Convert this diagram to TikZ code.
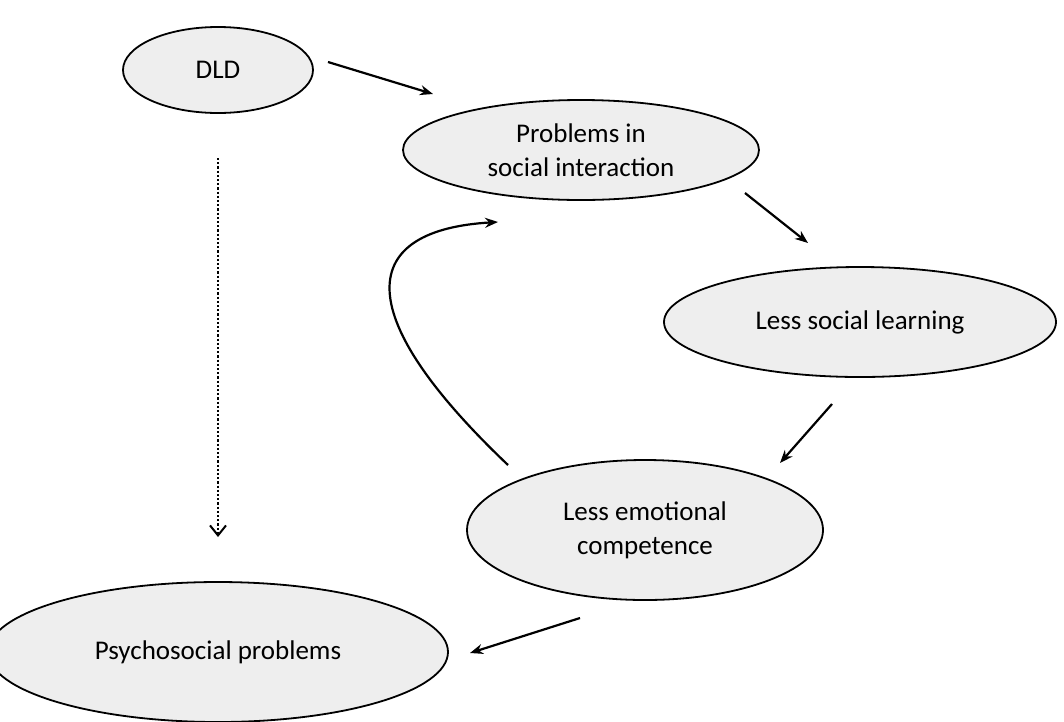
\documentclass[tikz,border=0pt]{standalone}
\usepackage{fontspec}
\setmainfont{Carlito}
\usetikzlibrary{shapes.geometric,arrows.meta,calc}
\begin{document}
\begin{tikzpicture}[x=1pt,y=-1pt,
  ell/.style={ellipse,draw=black,line width=1.8pt,fill={rgb,255:red,238;green,238;blue,238},inner sep=0pt,align=center,font=\fontsize{27}{34}\selectfont},
  arr/.style={line width=2.2pt,-{Stealth[length=13pt,width=10pt]}}]
\useasboundingbox (0,0) rectangle (1064,721);
\node[ell,minimum width=190,minimum height=86] (dld) at (218,70) {DLD};
\node[ell,minimum width=356,minimum height=100] (prob) at (581,150) {Problems in\\social interaction};
\node[ell,minimum width=392,minimum height=110] (soc) at (860,322) {Less social learning};
\node[ell,minimum width=356,minimum height=140] (emo) at (645,530) {Less emotional\\competence};
\node[ell,minimum width=460,minimum height=140] (psy) at (218,652) {Psychosocial problems};
\draw[arr] ($(dld)+(110,-8)$) -- ($(prob)+(-148,-56)$);
\draw[arr] ($(prob)+(164,43)$) -- ($(soc)+(-52,-79)$);
\draw[arr] ($(soc)+(-28,82)$) -- ($(emo)+(135,-67)$);
\draw[arr] ($(emo)+(-65,88)$) -- ($(psy)+(252,1)$);
\draw[arr] ($(emo)+(-137,-65)$) .. controls ($(emo)+(-300,-220)$) and ($(prob)+(-220,80)$) .. ($(prob)+(-83,72)$);
\draw[line width=2.2pt,dotted,-{Straight Barb[length=10pt,width=16pt,line width=2pt]}] ($(dld)+(0,88)$) -- ($(psy)+(0,-115)$);
\end{tikzpicture}
\end{document}
